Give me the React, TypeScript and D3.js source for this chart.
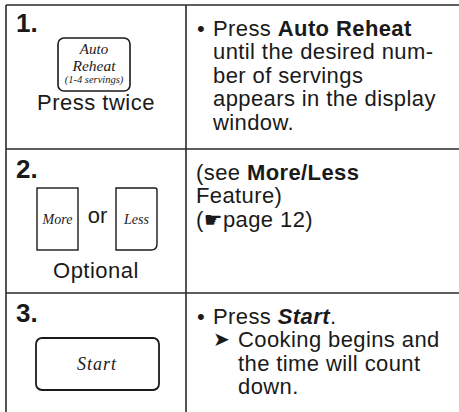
import React from "react";
import * as d3 from "d3";

// step table content
const stepNumbers = ["1.", "2.", "3."];
const stepCaptions = ["Press twice", "Optional", ""];
const buttonLabels = [["Auto", "Reheat", "(1-4 servings)"], ["More", "or", "Less"], ["Start"]];

type Seg = { t: string; b?: boolean; i?: boolean };
const row1Lines: Seg[][] = [
  [{ t: "Press " }, { t: "Auto Reheat", b: true }],
  [{ t: "until the desired num-" }],
  [{ t: "ber of servings" }],
  [{ t: "appears in the display" }],
  [{ t: "window." }],
];
const row2Lines: Seg[][] = [
  [{ t: "(see " }, { t: "More/Less", b: true }],
  [{ t: "Feature)" }],
  [{ t: "(" }, { t: "\u261B" }, { t: "page 12)" }],
];
const row3Lines: Seg[][] = [
  [{ t: "Press " }, { t: "Start", b: true, i: true }, { t: "." }],
  [{ t: "Cooking begins and" }],
  [{ t: "the time will count" }],
  [{ t: "down." }],
];
const rowLines = [row1Lines, row2Lines, row3Lines];
const rowBullets = ["\u2022", "", "\u2022"];

const W = 459;
const H = 412;
const SANS = "'Liberation Sans', Arial, Helvetica, sans-serif";
const SERIF = "'Liberation Serif', 'Times New Roman', serif";
const INK = "#1a1a1a";

export default function App() {
  const y = d3.scaleLinear().domain([0, 3]).range([5, 5 + 432]);
  const x = d3.scaleLinear().domain([0, 1]).range([6, 186]);
  const cx = (x(0) + x(1)) / 2;
  const lineY = d3.scaleLinear().domain([0, 1]).range([30.5, 54]);

  const renderLine = (segs: Seg[], key: number) => (
    <>
      {segs.map((s, k) => (
        <tspan
          key={key + "-" + k}
          fontWeight={s.b ? "bold" : "normal"}
          fontStyle={s.i ? "italic" : "normal"}
          fontFamily={s.t === "\u261B" ? "'DejaVu Sans', sans-serif" : SANS}
          fontSize={s.t === "\u261B" ? 21 : undefined}
        >
          {s.t}
        </tspan>
      ))}
    </>
  );

  return (
    <svg width={W} height={H} style={{ position: "absolute", left: 0, top: 0, background: "#fff" }}>
      <rect width={W} height={H} fill="#fff" />
      {/* grid */}
      <g stroke="#2a2a2a" strokeWidth={1.6} fill="none">
        <line x1={x(0)} x2={W} y1={y(0)} y2={y(0)} />
        <line x1={x(0)} x2={x(0)} y1={y(0)} y2={H} />
        <line x1={x(1)} x2={x(1)} y1={y(0)} y2={H} />
        <line x1={x(0)} x2={W} y1={y(1)} y2={y(1)} />
        <line x1={x(0)} x2={W} y1={y(2)} y2={y(2)} />
      </g>

      {stepNumbers.map((n, i) => (
        <text
          key={n}
          x={x(0) + 10}
          y={y(i) + (i === 0 ? 27 : 29)}
          fontFamily={SANS}
          fontWeight="bold"
          fontSize={26}
          fill={INK}
        >
          {n}
        </text>
      ))}

      {stepCaptions.map((c, i) =>
        c ? (
          <text
            key={"c" + i}
            x={cx}
            y={y(i) + (i === 0 ? 105 : 129)}
            textAnchor="middle"
            fontFamily={SANS}
            fontSize={22}
            letterSpacing={0.5}
            fill={INK}
          >
            {c}
          </text>
        ) : null
      )}

      {/* row 1 button */}
      <g>
        <rect x={58} y={y(0) + 33} width={72} height={53} rx={6} fill="#fff" stroke={INK} strokeWidth={1.6} />
        <text x={cx - 2} y={y(0) + 49} textAnchor="middle" fontFamily={SERIF} fontStyle="italic" fontSize={15} fill={INK}>
          {buttonLabels[0][0]}
        </text>
        <text x={cx - 2} y={y(0) + 66} textAnchor="middle" fontFamily={SERIF} fontStyle="italic" fontSize={15.5} fill={INK}>
          {buttonLabels[0][1]}
        </text>
        <text x={cx - 2} y={y(0) + 78} textAnchor="middle" fontFamily={SERIF} fontStyle="italic" fontSize={10.5} fill={INK}>
          {buttonLabels[0][2]}
        </text>
      </g>

      {/* row 2 buttons */}
      <g>
        <rect x={37} y={y(1) + 39} width={41} height={62} fill="#fff" stroke={INK} strokeWidth={1.4} />
        <text x={57.5} y={y(1) + 75} textAnchor="middle" fontFamily={SERIF} fontStyle="italic" fontSize={14} fill={INK}>
          {buttonLabels[1][0]}
        </text>
        <text x={97.5} y={y(1) + 74} textAnchor="middle" fontFamily={SANS} fontSize={22} fill={INK}>
          {buttonLabels[1][1]}
        </text>
        <path
          d={`M116,${y(1) + 39} H155 Q157,${y(1) + 39} 157,${y(1) + 41} V${y(1) + 95} Q157,${y(1) + 101} 151,${y(1) + 101} H116 Z`}
          fill="#fff"
          stroke={INK}
          strokeWidth={1.4}
        />
        <text x={136.5} y={y(1) + 75} textAnchor="middle" fontFamily={SERIF} fontStyle="italic" fontSize={14} fill={INK}>
          {buttonLabels[1][2]}
        </text>
      </g>

      {/* row 3 button */}
      <g>
        <rect x={36} y={y(2) + 45} width={123} height={52} rx={6} fill="#fff" stroke={INK} strokeWidth={1.8} />
        <text x={97} y={y(2) + 77} textAnchor="middle" fontFamily={SERIF} fontStyle="italic" fontSize={18} letterSpacing={1} fill={INK}>
          {buttonLabels[2][0]}
        </text>
      </g>

      {/* right column text */}
      {rowLines.map((lines, r) => (
        <g key={"r" + r} fill={INK} fontSize={22}>
          {rowBullets[r] && (
            <text x={x(1) + 11} y={y(r) + lineY(0)} fontFamily={SANS}>
              {rowBullets[r]}
            </text>
          )}
          {r === 2 && (
            <text x={x(1) + 27} y={y(r) + lineY(1) - 1} fontFamily="'DejaVu Sans', sans-serif" fontSize={20}>
              {"\u27A4"}
            </text>
          )}
          {lines.map((segs, li) => {
            const tx = r === 1 ? x(1) + 10 : r === 2 && li > 0 ? x(1) + 52 : x(1) + 27;
            return (
              <text key={li} x={tx} y={y(r) + lineY(li)} fontFamily={SANS} letterSpacing={0.4}>
                {renderLine(segs, li)}
              </text>
            );
          })}
        </g>
      ))}
    </svg>
  );
}
